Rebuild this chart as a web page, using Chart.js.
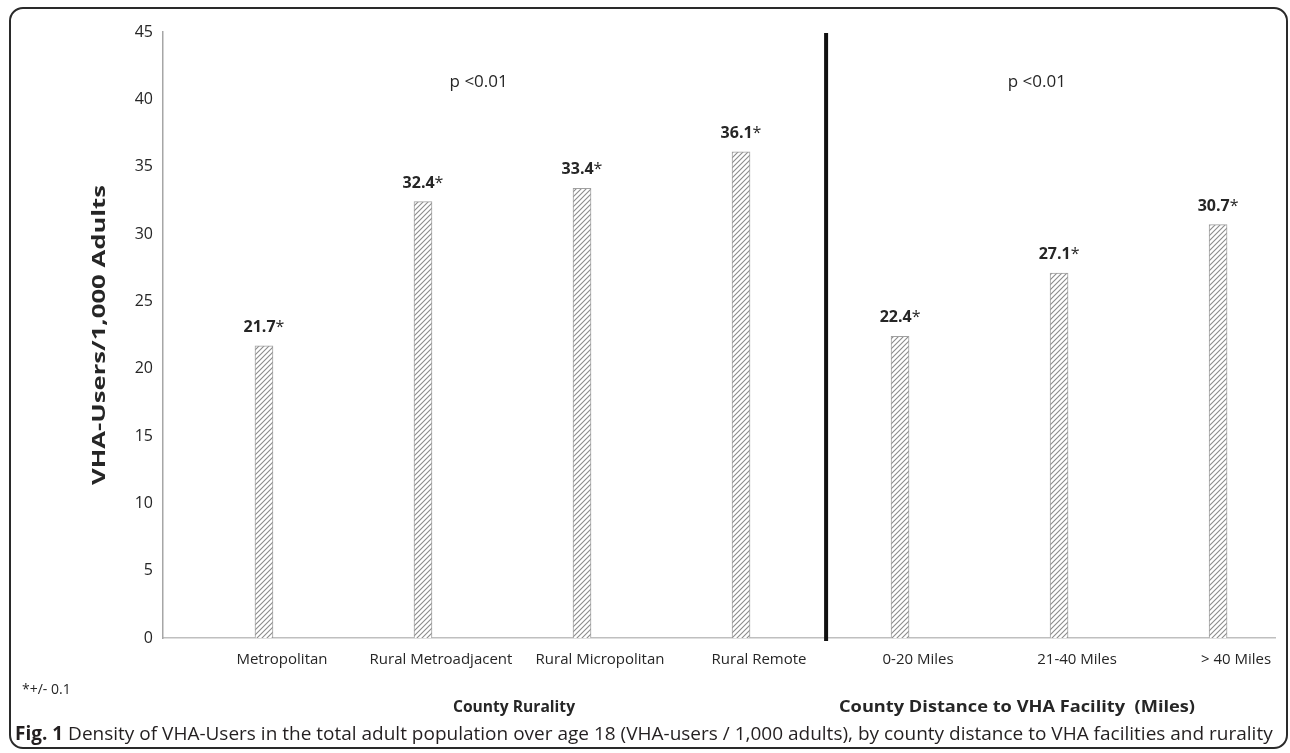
<!DOCTYPE html>
<html>
<head>
<meta charset="utf-8">
<script src="https://cdn.jsdelivr.net/npm/chart.js@4.4.1/dist/chart.umd.min.js"></script>
<style>
  html, body { margin: 0; padding: 0; background: #ffffff; }
  #wrap { position: relative; width: 1290px; height: 753px; overflow: hidden; }
  #frame { position: absolute; left: 9px; top: 7px; width: 1279px; height: 742px;
           border: 2px solid #2a2a2a; border-radius: 14px; box-sizing: border-box; }
  canvas { position: absolute; left: 0; top: 0; }
</style>
</head>
<body>
<div id="wrap">
  <div id="frame"></div>
  <canvas id="c" width="1290" height="753"></canvas>
</div>
<script>
// ---- data ----
const categories = ["Metropolitan", "Rural Metroadjacent", "Rural Micropolitan", "Rural Remote",
                    "0-20 Miles", "21-40 Miles", "> 40 Miles"];
const densityValues = [21.7, 32.4, 33.4, 36.1, 22.4, 27.1, 30.7];
const valueSuffix = "*";
const yTicks = [0, 5, 10, 15, 20, 25, 30, 35, 40, 45];
const groupTitles = ["County Rurality", "County Distance to VHA Facility  (Miles)"];
const pValueTexts = ["p <0.01", "p <0.01"];
const yTitle = "VHA-Users/1,000 Adults";
const footnote = "*+/- 0.1";
const captionBold = "Fig. 1";
const captionText = " Density of VHA-Users in the total adult population over age 18 (VHA-users / 1,000 adults), by county distance to VHA facilities and rurality";

// ---- hatch pattern ----
function makeHatch() {
  const s = 5;
  const pc = document.createElement('canvas');
  pc.width = s; pc.height = s;
  const g = pc.getContext('2d');
  g.fillStyle = '#ffffff';
  g.fillRect(0, 0, s, s);
  g.strokeStyle = '#8c8c8c';
  g.lineWidth = 1.1;
  g.beginPath();
  g.moveTo(0, s); g.lineTo(s, 0);
  g.moveTo(-1, 1); g.lineTo(1, -1);
  g.moveTo(s - 1, s + 1); g.lineTo(s + 1, s - 1);
  g.stroke();
  return document.getElementById('c').getContext('2d').createPattern(pc, 'repeat');
}

const FONT = "'Open Sans', 'Noto Sans', sans-serif";
const TXT = '#262626';

// draw text centred at (cx, cy) stretched/squeezed horizontally to a target width
function drawFit(ctx, text, cx, cy, font, targetW) {
  ctx.save();
  ctx.font = font;
  const w = ctx.measureText(text).width;
  ctx.translate(cx, cy);
  ctx.scale(targetW / w, 1);
  ctx.textAlign = 'center';
  ctx.textBaseline = 'middle';
  ctx.fillText(text, 0, 0);
  ctx.restore();
}

const overlay = {
  id: 'overlay',
  afterDatasetsDraw(chart) {
    const ctx = chart.ctx;
    const xs = chart.scales.x, ys = chart.scales.y;
    const meta = chart.getDatasetMeta(0);
    ctx.save();
    // value labels
    ctx.textBaseline = 'alphabetic';
    meta.data.forEach((bar, i) => {
      const num = densityValues[i].toFixed(1);
      ctx.font = "bold 16px " + FONT;
      const w1 = ctx.measureText(num).width;
      ctx.font = "16px " + FONT;
      const w2 = ctx.measureText(valueSuffix).width;
      const x0 = bar.x - (w1 + w2) / 2;
      const yb = bar.y - 14;
      ctx.fillStyle = TXT;
      ctx.textAlign = 'left';
      ctx.font = "bold 16px " + FONT;
      ctx.fillText(num, x0, yb);
      ctx.font = "16px " + FONT;
      ctx.fillText(valueSuffix, x0 + w1, yb);
    });
    // divider between the two groups
    const dx = xs.getPixelForValue(3.535);
    ctx.strokeStyle = '#111111';
    ctx.lineWidth = 4;
    ctx.beginPath();
    ctx.moveTo(dx, ys.getPixelForValue(45) + 1);
    ctx.lineTo(dx, ys.getPixelForValue(0) + 3);
    ctx.stroke();
    // p-values
    ctx.font = "17px " + FONT;
    ctx.fillStyle = TXT;
    ctx.textAlign = 'center';
    ctx.textBaseline = 'middle';
    ctx.fillText(pValueTexts[0], xs.getPixelForValue(1.35), ys.getPixelForValue(41.3));
    ctx.fillText(pValueTexts[1], xs.getPixelForValue(4.86), ys.getPixelForValue(41.3));
    // y title
    ctx.save();
    ctx.translate(100, (ys.top + ys.bottom) / 2);
    ctx.rotate(-Math.PI / 2);
    drawFit(ctx, yTitle, 0, 0, "bold 17px " + FONT, 300);
    ctx.restore();
    // group titles
    drawFit(ctx, groupTitles[0], 514, 707, "bold 16px " + FONT, 122);
    drawFit(ctx, groupTitles[1], 1017, 707, "bold 16px " + FONT, 356);
    // footnote
    ctx.font = "14px " + FONT;
    ctx.textAlign = 'left';
    ctx.fillText(footnote, 22, 690);
    // caption (fit to the width of the frame)
    const target = 1268;
    const measure = (s) => {
      ctx.font = "bold " + s + "px " + FONT;
      const a = ctx.measureText(captionBold).width;
      ctx.font = s + "px " + FONT;
      return a + ctx.measureText(captionText).width;
    };
    let size = 12;
    while (measure(size + 0.25) <= target && size < 24) size += 0.25;
    ctx.fillStyle = '#231f20';
    ctx.font = "bold " + size + "px " + FONT;
    const bw = ctx.measureText(captionBold).width;
    ctx.fillText(captionBold, 15, 735);
    ctx.font = size + "px " + FONT;
    ctx.fillText(captionText, 15 + bw, 735);
    ctx.restore();
  }
};

const hatch = makeHatch();

new Chart(document.getElementById('c'), {
  type: 'bar',
  data: {
    datasets: [{
      data: densityValues.map((v, i) => ({ x: i, y: v })),
      backgroundColor: hatch,
      borderColor: '#a0a0a0',
      borderWidth: 1,
      barThickness: 18
    }]
  },
  options: {
    responsive: false,
    animation: false,
    devicePixelRatio: 1,
    layout: { padding: { left: 0, top: 32, right: 15, bottom: 0 } },
    plugins: { legend: { display: false }, tooltip: { enabled: false } },
    scales: {
      x: {
        type: 'linear',
        offset: false,
        min: -0.635,
        max: 6.358,
        afterBuildTicks: (s) => { s.ticks = categories.map((_, i) => ({ value: i })); },
        afterFit: (s) => { s.height = 115; },
        grid: { display: false, drawTicks: false },
        border: { display: true, color: '#bfbfbf', width: 1.5 },
        ticks: {
          autoSkip: false,
          maxRotation: 0,
          padding: 13,
          labelOffset: 18,
          color: TXT,
          font: { family: FONT, size: 15 },
          callback: (v) => categories[v] ?? ''
        }
      },
      y: {
        min: 0,
        max: 45,
        afterBuildTicks: (s) => { s.ticks = yTicks.map(v => ({ value: v })); },
        afterFit: (s) => { s.width = 163; },
        grid: { display: false, drawTicks: false },
        border: { display: true, color: '#a6a6a6', width: 1.5 },
        ticks: {
          padding: 10,
          color: TXT,
          font: { family: FONT, size: 16 }
        }
      }
    }
  },
  plugins: [overlay]
});
</script>
</body>
</html>
